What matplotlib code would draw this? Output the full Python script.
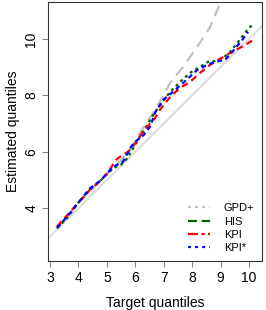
import matplotlib
matplotlib.use("Agg")
import matplotlib.pyplot as plt
from matplotlib.lines import Line2D

plt.rcParams['font.family'] = ['Liberation Sans', 'DejaVu Sans']

# Data
gpd_x = [3.2, 3.6, 4.0, 4.5, 5.0, 5.5, 5.8, 6.17, 6.7, 7.23, 7.68, 8.18, 8.63, 8.99, 9.2]
gpd_y = [3.3, 3.7, 4.2, 4.7, 5.2, 5.7, 6.05, 6.68, 7.49, 8.44, 9.01, 9.72, 10.42, 11.27, 11.7]

his_x = [3.25, 3.6, 4.0, 4.4, 4.8, 5.2, 5.5, 5.7, 6.0, 6.3, 6.7, 6.94, 7.23, 7.58, 7.93,
         8.21, 8.56, 8.81, 9.09, 9.34, 9.62, 9.94, 10.15]
his_y = [3.3, 3.65, 4.2, 4.65, 5.0, 5.4, 5.55, 5.75, 6.25, 6.75, 7.42, 7.74, 8.13, 8.48, 8.8,
         8.97, 9.19, 9.22, 9.33, 9.54, 9.9, 10.32, 10.53]

kpi_x = [3.25, 3.6, 4.0, 4.4, 4.8, 5.1, 5.3, 5.5, 5.75, 6.0, 6.27, 6.7, 6.87, 7.23, 7.58,
         7.93, 8.28, 8.63, 8.99, 9.34, 9.87, 10.11]
kpi_y = [3.35, 3.75, 4.2, 4.65, 5.0, 5.35, 5.7, 5.85, 6.0, 6.3, 6.71, 7.2, 7.49, 7.95, 8.27,
         8.48, 8.8, 9.08, 9.3, 9.5, 9.79, 9.94]

kpis_x = [3.25, 3.6, 4.0, 4.4, 4.8, 5.2, 5.57, 5.85, 6.0, 6.3, 6.52, 6.7, 6.98, 7.33, 7.68,
          8.18, 8.53, 8.81, 9.16, 9.41, 9.76, 9.97]
kpis_y = [3.3, 3.7, 4.2, 4.7, 5.0, 5.45, 5.65, 6.18, 6.36, 6.6, 6.89, 7.39, 7.84, 8.13, 8.44,
          8.9, 9.08, 9.19, 9.26, 9.54, 9.96, 10.25]

ident = [2.0, 12.0]
xticks = [3, 4, 5, 6, 7, 8, 9, 10]
yticks = [4, 6, 8, 10]
legend_labels = ["GPD+", "HIS", "KPI", "KPI*"]

fig = plt.figure(figsize=(2.66, 3.10), dpi=100)
ax = fig.add_axes([48/266, 1-261/310, (262-48)/266, (261-2)/310])

ax.plot(ident, ident, color='#dcdcdc', lw=1.5, solid_capstyle='butt', zorder=1)
ax.plot(gpd_x, gpd_y, color='#c0c0c0', lw=1.6, dashes=(5, 3), zorder=2)
ax.plot(his_x, his_y, color='#006400', lw=1.6, dashes=(1.3, 1.6), zorder=3)
ax.plot(kpi_x, kpi_y, color='#ff0000', lw=1.6, dashes=(3, 2), zorder=4)
ax.plot(kpis_x, kpis_y, color='#0000ff', lw=1.6, dashes=(2.2, 1.6), zorder=5)

ax.set_xlim(2.93, 10.46)
ax.set_ylim(2.13, 11.31)
ax.set_xticks(xticks)
ax.set_yticks(yticks)
ax.set_xticklabels([str(t) for t in xticks], fontsize=10)
ax.set_yticklabels([str(t) for t in yticks], fontsize=10, rotation=90, va='center')
ax.tick_params(axis='both', direction='out', length=4, width=0.8, color='#888888', pad=3)
for s in ax.spines.values():
    s.set_color('#333333')
    s.set_linewidth(0.8)

ax.set_xlabel("Target quantiles", fontsize=10, labelpad=8)
ax.set_ylabel("Estimated quantiles", fontsize=10, labelpad=3)

handles = [
    Line2D([0], [0], color='#c0c0c0', lw=1.6, dashes=(1.3, 1.9)),
    Line2D([0], [0], color='#006400', lw=1.6, dashes=(4, 2.2)),
    Line2D([0], [0], color='#ff0000', lw=1.6, dashes=(4.5, 1.5, 1.5, 1.5)),
    Line2D([0], [0], color='#0000ff', lw=1.6, dashes=(1.3, 1.9)),
]
ax.legend(handles, legend_labels, loc='lower right', frameon=False, fontsize=8,
          handlelength=2.0, handletextpad=1.2, labelspacing=0.3,
          bbox_to_anchor=(1.0, 0.0), borderaxespad=0.3)

fig.savefig("out.png", dpi=100)
